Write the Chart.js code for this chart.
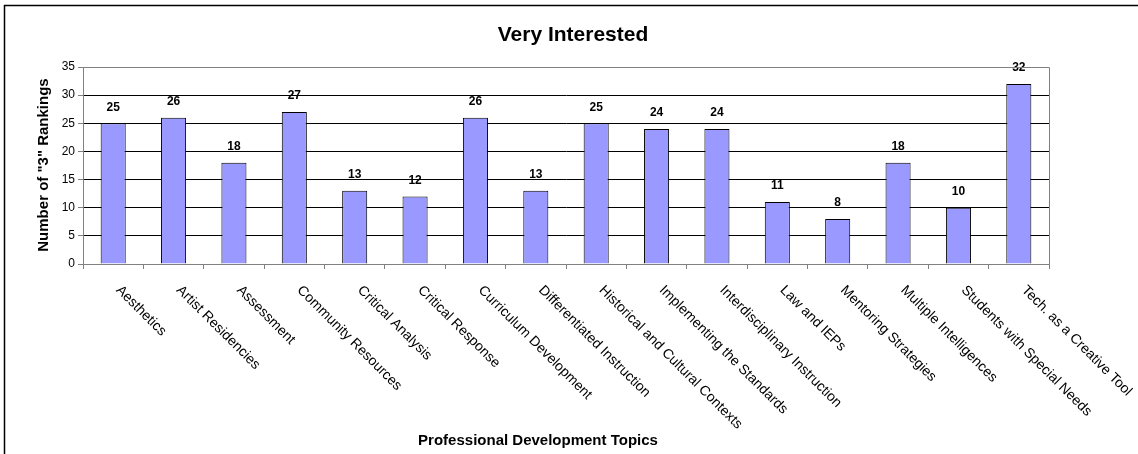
<!DOCTYPE html>
<html>
<head>
<meta charset="utf-8">
<script src="https://cdn.jsdelivr.net/npm/chart.js@4.4.0/dist/chart.umd.min.js"></script>
<style>
  html, body { margin: 0; padding: 0; background: #fff; }
  #wrap { width: 1138px; height: 454px; position: relative; }
</style>
</head>
<body>
<div id="wrap"><canvas id="chart" width="1138" height="454"></canvas></div>
<script>
// chart data
const topics = [
  "Aesthetics", "Artist Residencies", "Assessment", "Community Resources",
  "Critical Analysis", "Critical Response", "Curriculum Development",
  "Differentiated Instruction", "Historical and Cultural Contexts",
  "Implementing the Standards", "Interdisciplinary Instruction", "Law and IEPs",
  "Mentoring Strategies", "Multiple Intelligences", "Students with Special Needs",
  "Tech. as a Creative Tool"
];
const rankings = [25, 26, 18, 27, 13, 12, 26, 13, 25, 24, 24, 11, 8, 18, 10, 32];
const yTicks = [0, 5, 10, 15, 20, 25, 30, 35];

const chartTitle = "Very Interested";
const xTitle = "Professional Development Topics";
const yTitle = 'Number of "3" Rankings';
const FONT = "'Liberation Sans', Arial, sans-serif";

// extra drawing: frame, titles, value labels, slanted category labels
const decorations = {
  id: "decorations",
  beforeDraw(chart) {
    const ctx = chart.ctx;
    ctx.save();
    ctx.fillStyle = "#fff";
    ctx.fillRect(0, 0, chart.width, chart.height);
    ctx.restore();
  },
  afterDatasetsDraw(chart) {
    const ctx = chart.ctx;
    const meta = chart.getDatasetMeta(0);
    ctx.save();
    ctx.font = "bold 12px " + FONT;
    ctx.fillStyle = "#000";
    ctx.textAlign = "center";
    ctx.textBaseline = "middle";
    meta.data.forEach((bar, i) => {
      ctx.fillText(String(rankings[i]), bar.x, bar.y - 16);
    });
    ctx.restore();
  },
  afterDraw(chart) {
    const ctx = chart.ctx;
    const area = chart.chartArea;
    const x = chart.scales.x;
    ctx.save();

    // outer frame (runs off right/bottom edge like the original)
    ctx.strokeStyle = "#000";
    ctx.lineWidth = 1.5;
    ctx.strokeRect(4.5, 5.5, 1300, 600);

    // plot area top/right border
    ctx.strokeStyle = "#808080";
    ctx.lineWidth = 1;
    ctx.beginPath();
    ctx.moveTo(area.left, Math.round(area.top) + 0.5);
    ctx.lineTo(Math.round(area.right) + 0.5, Math.round(area.top) + 0.5);
    ctx.lineTo(Math.round(area.right) + 0.5, area.bottom);
    ctx.stroke();

    // title
    ctx.fillStyle = "#000";
    ctx.font = "bold 21px " + FONT;
    ctx.textAlign = "center";
    ctx.textBaseline = "middle";
    ctx.fillText(chartTitle, 573, 35);

    // x axis title
    ctx.font = "bold 15px " + FONT;
    ctx.fillText(xTitle, 538, 441);

    // y axis title
    ctx.save();
    ctx.translate(44, 165);
    ctx.rotate(-Math.PI / 2);
    ctx.fillText(yTitle, 0, 0);
    ctx.restore();

    // category labels, slanted down to the right
    ctx.font = "14px " + FONT;
    ctx.textAlign = "left";
    ctx.textBaseline = "middle";
    topics.forEach((t, i) => {
      const px = x.getPixelForTick(i);
      ctx.save();
      ctx.translate(px + 5, area.bottom + 24);
      ctx.rotate(Math.PI / 4);
      ctx.fillText(t, 0, 0);
      ctx.restore();
    });
    ctx.restore();
  }
};

new Chart(document.getElementById("chart"), {
  type: "bar",
  data: {
    labels: topics,
    datasets: [{
      label: "Very Interested",
      data: rankings,
      backgroundColor: "#9999FF",
      borderColor: "#000",
      borderWidth: 1,
      barPercentage: 0.415,
      categoryPercentage: 1
    }]
  },
  options: {
    responsive: false,
    animation: false,
    layout: { padding: { left: 4, right: 89, top: 67, bottom: 0 } },
    plugins: {
      legend: { display: false },
      tooltip: { enabled: false },
      title: { display: false }
    },
    scales: {
      x: {
        offset: true,
        grid: {
          offset: true,
          drawOnChartArea: false,
          drawTicks: true,
          tickLength: 5,
          color: "#808080"
        },
        border: { color: "#808080" },
        ticks: { display: false },
        afterFit(scale) { scale.height = 190; }
      },
      y: {
        min: 0,
        max: 35,
        afterBuildTicks(scale) { scale.ticks = yTicks.map(v => ({ value: v })); },
        grid: {
          color: ctx => (ctx.tick && (ctx.tick.value === 0 || ctx.tick.value === 35)) ? "#808080" : "#000",
          tickLength: 5,
          tickColor: "#808080"
        },
        border: { color: "#808080" },
        ticks: {
          color: "#000",
          font: { family: FONT, size: 12 },
          padding: 3
        },
        afterFit(scale) { scale.width = 79; }
      }
    }
  },
  plugins: [decorations]
});
</script>
</body>
</html>
